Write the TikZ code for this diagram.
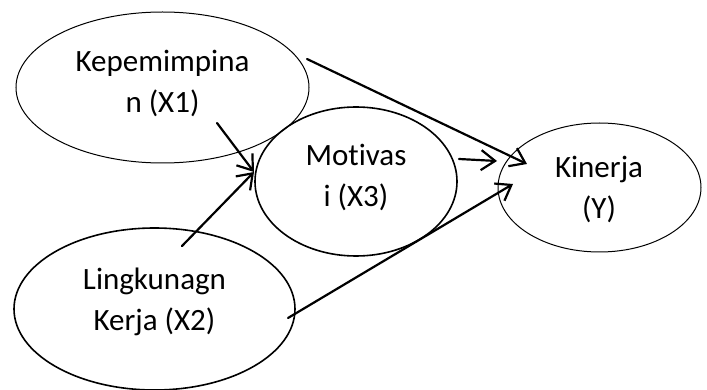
\documentclass[tikz,border=0pt]{standalone}
\usepackage{fontspec}
\setmainfont[Ligatures=NoCommon]{Carlito}
\usetikzlibrary{shapes.geometric,arrows.meta}
\begin{document}
\begin{tikzpicture}[x=1pt,y=-1pt,
  construct/.style={ellipse, draw, inner sep=0pt},
  caption/.style={align=center, inner sep=0pt, font=\fontsize{31}{41}\selectfont},
  link/.style={line width=2.2pt, line cap=round,
    -{Straight Barb[length=14pt,width=20pt,line width=2.2pt]}}]
\useasboundingbox (0,0) rectangle (707,390);

% latent constructs
\node[construct, line width=1pt,   minimum width=293pt, minimum height=151pt] (x1) at (162.5,87.5) {};
\node[construct, line width=1.6pt, minimum width=281pt, minimum height=162pt] (x2) at (154.5,309) {};
\node[construct, line width=1.6pt, minimum width=202pt, minimum height=149pt] (x3) at (356,181.5) {};
\node[construct, line width=1pt,   minimum width=203pt, minimum height=129pt] (y)  at (599.5,187.5) {};

% construct names
\node[caption] (x1t) at (162.5,83.5) {Kepemimpina\\n (X1)};
\node[caption] (x3t) at (356,177.5) {Motivas\\i (X3)};
\node[caption] (yt)  at (599,189) {Kinerja\\(Y)};
\node[caption] (x2t) at (154.5,302) {Lingkunagn\\Kerja (X2)};

% arrow end points
\coordinate (x1a) at (217,123);
\coordinate (x2a) at (182,246);
\coordinate (x3in) at (254,172);
\coordinate (x3a) at (459,159);
\coordinate (yinA) at (497,161);
\coordinate (x1b) at (307,59);
\coordinate (yinB) at (527,164);
\coordinate (x2b) at (288,318);
\coordinate (yinC) at (513,184);

% paths
\draw[link] (x1a) -- (x3in);
\draw[link] (x2a) -- (x3in);
\draw[link] (x3a) -- (yinA);
\draw[link] (x1b) -- (yinB);
\draw[link] (x2b) -- (yinC);
\end{tikzpicture}
\end{document}
